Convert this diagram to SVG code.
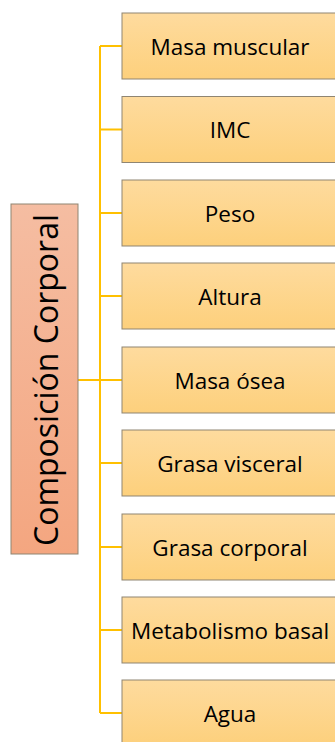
<svg xmlns="http://www.w3.org/2000/svg" width="335" height="742" viewBox="0 0 335 742">
<defs>
<linearGradient id="gy" x1="0" y1="0" x2="0" y2="1"><stop offset="0" stop-color="#FEDB9E"/><stop offset="1" stop-color="#FDD07C"/></linearGradient>
<linearGradient id="gs" x1="0" y1="0" x2="0" y2="1"><stop offset="0" stop-color="#F5BDA2"/><stop offset="1" stop-color="#F4A680"/></linearGradient>
<style>
.leaf{fill:url(#gy);stroke:#8F8572;stroke-width:1}
.root{fill:url(#gs);stroke:#8F8572;stroke-width:1}
.t{font-family:"Open Sans","Liberation Sans",sans-serif;font-size:22.5px;fill:#000;text-anchor:middle;dominant-baseline:central}
.rt{font-family:"Open Sans","Liberation Sans",sans-serif;font-size:32px;fill:#000;text-anchor:middle;dominant-baseline:central}
.c{stroke:#FFC000;stroke-width:2;fill:none}
</style>
</defs>
<g id="connectors">
<path class="c" d="M78,380H100"/>
<path class="c" d="M100,46V713"/>
<path class="c" d="M100,46H122M100,129.5H122M100,213H122M100,296H122M100,380H122M100,463H122M100,547H122M100,630H122M100,713H122"/>
</g>
<g id="root"><rect class="root" x="11" y="204" width="67" height="350"/><text class="rt" transform="translate(45,380) rotate(-90)">Composición Corporal</text></g>
<g id="n1"><rect class="leaf" x="122" y="13" width="216" height="66"/><text class="t" x="230" y="46">Masa muscular</text></g>
<g id="n2"><rect class="leaf" x="122" y="96.5" width="216" height="66"/><text class="t" x="230" y="129.5">IMC</text></g>
<g id="n3"><rect class="leaf" x="122" y="180" width="216" height="66"/><text class="t" x="230" y="213">Peso</text></g>
<g id="n4"><rect class="leaf" x="122" y="263" width="216" height="66"/><text class="t" x="230" y="296">Altura</text></g>
<g id="n5"><rect class="leaf" x="122" y="347" width="216" height="66"/><text class="t" x="230" y="380">Masa ósea</text></g>
<g id="n6"><rect class="leaf" x="122" y="430" width="216" height="66"/><text class="t" x="230" y="463">Grasa visceral</text></g>
<g id="n7"><rect class="leaf" x="122" y="514" width="216" height="66"/><text class="t" x="230" y="547">Grasa corporal</text></g>
<g id="n8"><rect class="leaf" x="122" y="597" width="216" height="66"/><text class="t" x="230" y="630">Metabolismo basal</text></g>
<g id="n9"><rect class="leaf" x="122" y="680" width="216" height="66"/><text class="t" x="230" y="713">Agua</text></g>
</svg>
